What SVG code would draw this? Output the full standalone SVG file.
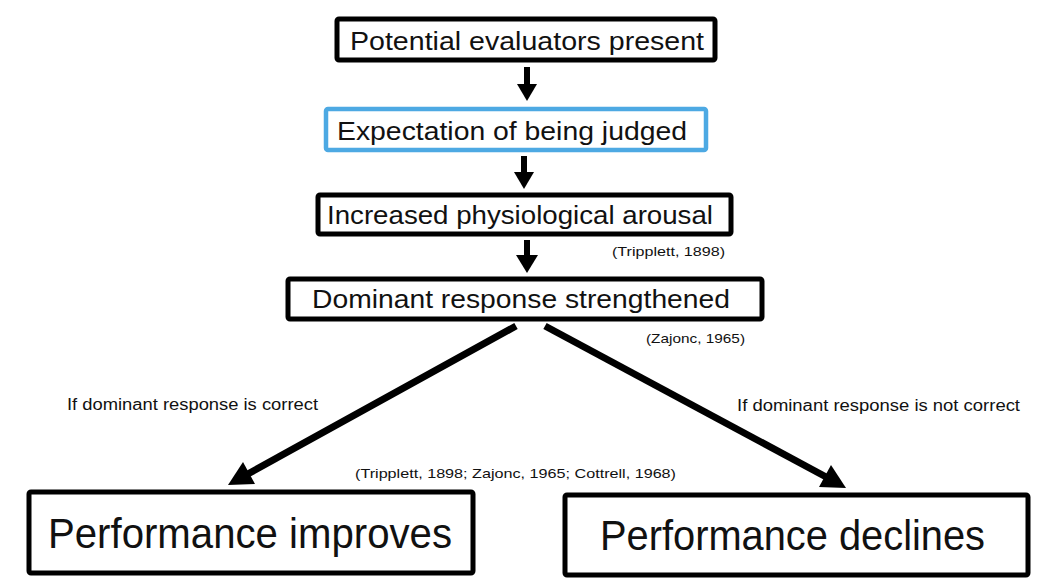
<svg xmlns="http://www.w3.org/2000/svg" width="1060" height="584" viewBox="0 0 1060 584">
<style>
.box{fill:#fff;stroke:#000;stroke-width:5}
.blue{fill:#fff;stroke:#4da9e3;stroke-width:4.5}
.t{font-family:"Liberation Sans",Arial,sans-serif;fill:#111}
.conn{stroke:#000;fill:none}
.head{fill:#000;stroke:none}
</style>
<rect width="1060" height="584" fill="#fff"/>
<g id="connectors">
<line class="conn" x1="527" y1="67" x2="527" y2="86" stroke-width="6"/>
<polygon class="head" points="517,84 537,84 527,101"/>
<line class="conn" x1="524" y1="156" x2="524" y2="174" stroke-width="6"/>
<polygon class="head" points="514,172 534,172 524,189"/>
<line class="conn" x1="527" y1="240" x2="527" y2="258" stroke-width="6"/>
<polygon class="head" points="516,255 538,255 527,273"/>
<line class="conn" x1="516" y1="326" x2="246" y2="475" stroke-width="7"/>
<polygon class="head" points="228,485 255,484 243,462"/>
<line class="conn" x1="545" y1="326" x2="828" y2="478" stroke-width="7"/>
<polygon class="head" points="846,488 819,487 831,465"/>
</g>
<g id="n1">
<rect class="box" x="337" y="19" width="378" height="41" rx="2"/>
<text class="t" x="527" y="50" font-size="26" text-anchor="middle" textLength="354" lengthAdjust="spacingAndGlyphs">Potential evaluators present</text>
</g>
<g id="n2">
<rect class="blue" x="326" y="109" width="380" height="41" rx="2"/>
<text class="t" x="337" y="140" font-size="26" textLength="350" lengthAdjust="spacingAndGlyphs">Expectation of being judged</text>
</g>
<g id="n3">
<rect class="box" x="318" y="195" width="413" height="39" rx="2"/>
<text class="t" x="327" y="224" font-size="26" textLength="386" lengthAdjust="spacingAndGlyphs">Increased physiological arousal</text>
</g>
<g id="n4">
<rect class="box" x="288" y="279" width="474" height="40" rx="2"/>
<text class="t" x="312" y="308" font-size="26" textLength="418" lengthAdjust="spacingAndGlyphs">Dominant response strengthened</text>
</g>
<g id="n5">
<rect class="box" x="29" y="492" width="444" height="81" rx="2"/>
<text class="t" x="48" y="548" font-size="42" textLength="404" lengthAdjust="spacingAndGlyphs">Performance improves</text>
</g>
<g id="n6">
<rect class="box" x="565" y="495" width="463" height="80" rx="2"/>
<text class="t" x="600" y="550" font-size="42" textLength="385" lengthAdjust="spacingAndGlyphs">Performance declines</text>
</g>
<g id="labels">
<text class="t" x="612" y="256" font-size="13" textLength="113" lengthAdjust="spacingAndGlyphs">(Tripplett, 1898)</text>
<text class="t" x="646" y="343" font-size="13" textLength="99" lengthAdjust="spacingAndGlyphs">(Zajonc, 1965)</text>
<text class="t" x="67" y="410" font-size="16" textLength="251" lengthAdjust="spacingAndGlyphs">If dominant response is correct</text>
<text class="t" x="737" y="411" font-size="16" textLength="283" lengthAdjust="spacingAndGlyphs">If dominant response is not correct</text>
<text class="t" x="355" y="478" font-size="13" textLength="321" lengthAdjust="spacingAndGlyphs">(Tripplett, 1898; Zajonc, 1965; Cottrell, 1968)</text>
</g>
</svg>
